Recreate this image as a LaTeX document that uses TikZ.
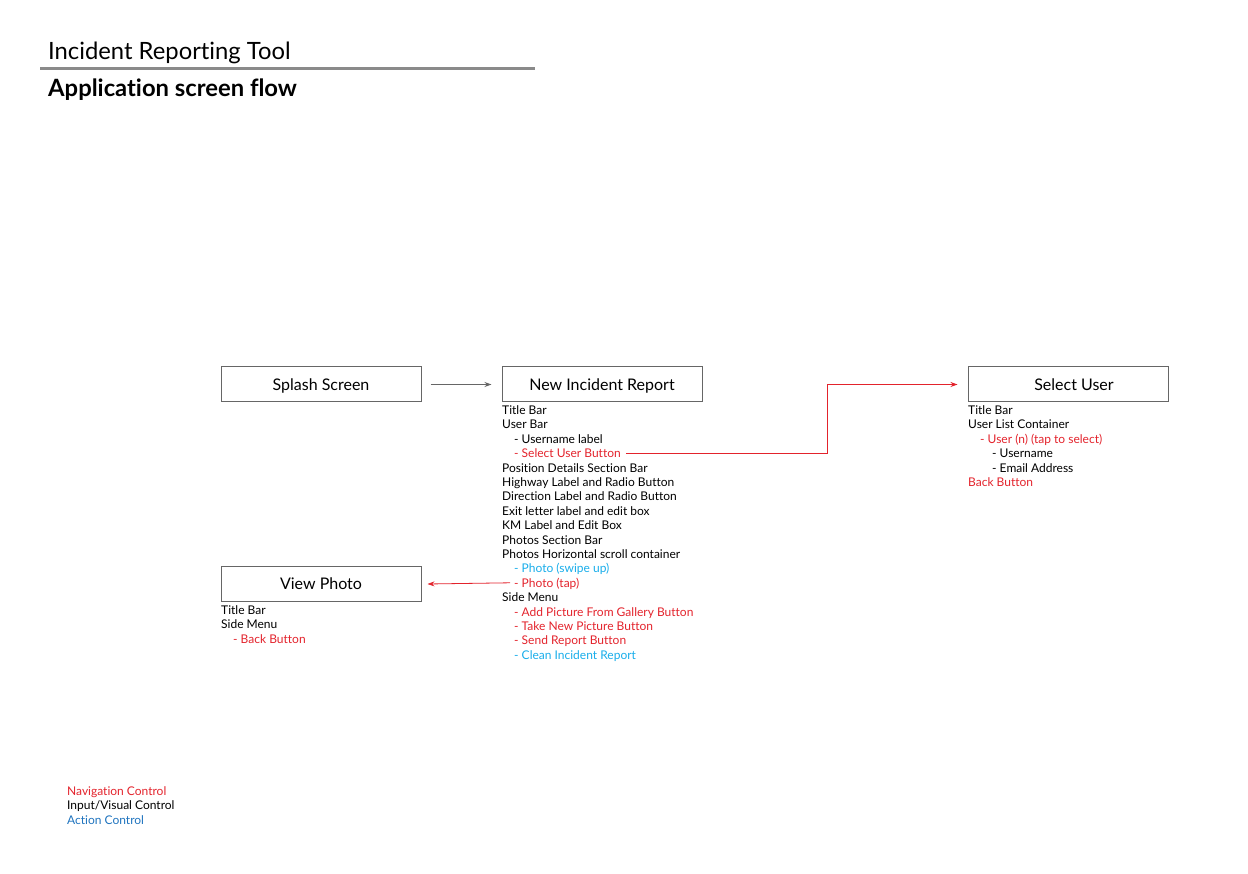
\documentclass[tikz,border=0pt]{standalone}
\usepackage{fontspec}
\setmainfont{Lato}[Ligatures=NoCommon]
\usetikzlibrary{arrows.meta}
\definecolor{navred}{HTML}{E3232C}
\definecolor{actcyan}{HTML}{18ADEA}
\definecolor{actblue}{HTML}{1E73BE}
\definecolor{boxgray}{HTML}{666666}
\definecolor{rulegray}{HTML}{8A8A8A}
\tikzset{
  screenbox/.style={draw=boxgray, line width=1pt, minimum width=200pt, minimum height=35pt, inner sep=0pt, text height=11.5pt, text depth=0pt, font=\fontsize{16}{19}\selectfont},
  boxtext/.style={inner sep=0pt, text height=11.5pt, text depth=0pt, font=\fontsize{16}{19}\selectfont},
  item/.style={anchor=west, inner sep=0pt, text height=9pt, text depth=0pt, font=\fontsize{12}{14.4}\selectfont},
  nav/.style={item, text=navred},
  act/.style={item, text=actcyan},
  link/.style={line width=0.8pt, -{Stealth[length=7pt,width=5pt]}},
}
\begin{document}
\begin{tikzpicture}[x=1pt,y=-1pt]
\useasboundingbox (0,0) rectangle (1248,874);
% header
\node[anchor=base west, inner sep=0pt, font=\fontsize{23.8}{28}\selectfont] (title) at (48,60) {Incident Reporting Tool};
\draw[rulegray, line width=3pt] (40,69) -- (535,69);
\node[anchor=base west, inner sep=0pt, font=\fontsize{23.8}{28}\selectfont\bfseries] (subtitle) at (48,97) {Application screen flow};
% screens
\node[screenbox] (splash) at (321,384.5) {Splash Screen};
\node[screenbox] (nir) at (602,384.5) {New Incident Report};
\node[screenbox] (seluser) at (1068,384.5) {};
\node[boxtext] (selusertext) at (1074,384.5) {Select User};
\node[screenbox] (view) at (321,584) {View Photo};
% New Incident Report items
\node[item] (n0) at (502,410.0) {Title Bar};
\node[item] (n1) at (502,424.4) {User Bar};
\node[item] (n2) at (514,438.8) {- Username label};
\node[nav]  (selbtn) at (514,453.2) {- Select User Button};
\node[item] (n4) at (502,467.6) {Position Details Section Bar};
\node[item] (n5) at (502,482.0) {Highway Label and Radio Button};
\node[item] (n6) at (502,496.4) {Direction Label and Radio Button};
\node[item] (n7) at (502,510.8) {Exit letter label and edit box};
\node[item] (n8) at (502,525.2) {KM Label and Edit Box};
\node[item] (n9) at (502,539.6) {Photos Section Bar};
\node[item] (n10) at (502,554.0) {Photos Horizontal scroll container};
\node[act]  (n11) at (514,568.4) {- Photo (swipe up)};
\node[nav]  (phototap) at (514,582.8) {- Photo (tap)};
\node[item] (n13) at (502,597.2) {Side Menu};
\node[nav]  (n14) at (514,611.6) {- Add Picture From Gallery Button};
\node[nav]  (n15) at (514,626.0) {- Take New Picture Button};
\node[nav]  (n16) at (514,640.4) {- Send Report Button};
\node[act]  (n17) at (514,654.8) {- Clean Incident Report};
% Select User items
\node[item] (s0) at (968,410.0) {Title Bar};
\node[item] (s1) at (968,424.4) {User List Container};
\node[nav]  (s2) at (980,438.8) {- User (n) (tap to select)};
\node[item] (s3) at (992,453.2) {- Username};
\node[item] (s4) at (992,467.6) {- Email Address};
\node[nav]  (s5) at (968,482.0) {Back Button};
% View Photo items
\node[item] (v0) at (221,610.0) {Title Bar};
\node[item] (v1) at (221,624.4) {Side Menu};
\node[nav]  (v2) at (233,638.8) {- Back Button};
% legend
\node[nav]  (l0) at (67,791.0) {Navigation Control};
\node[item] (l1) at (67,805.4) {Input/Visual Control};
\node[item, text=actblue] (l2) at (67,819.8) {Action Control};
% connectors
\draw[link, boxgray] ([xshift=9pt]splash.east) -- ([xshift=-10pt]nir.west);
\coordinate (bend) at (827,384.5);
\draw[link, navred] ([xshift=5pt]selbtn.east) -- (selbtn.east -| bend) -- (bend) -- ([xshift=-10pt]seluser.west);
\draw[link, navred] ([xshift=-4pt]phototap.west) -- ([xshift=6pt]view.east);
\end{tikzpicture}
\end{document}
